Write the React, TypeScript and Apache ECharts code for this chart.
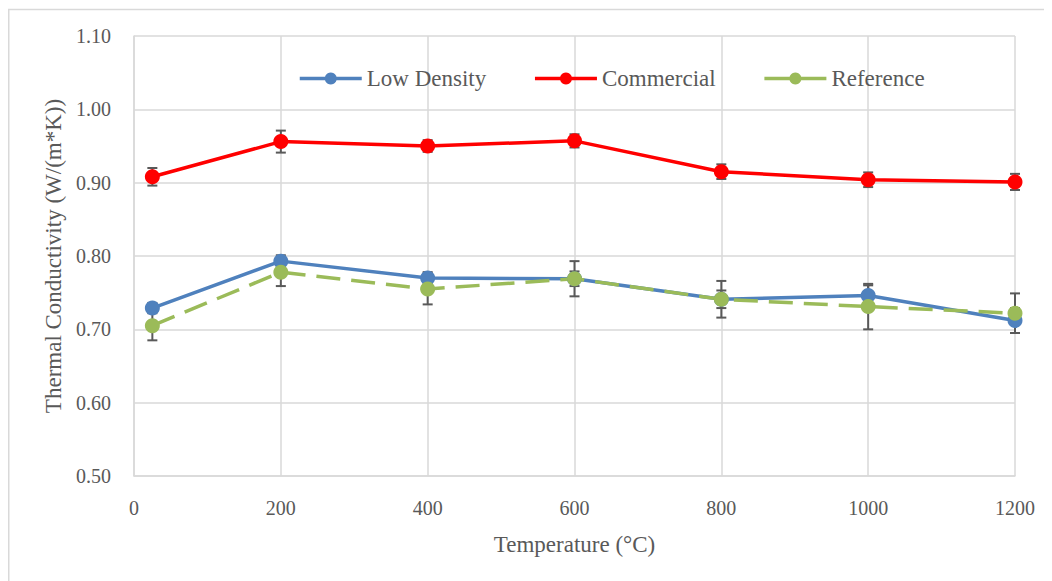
import React, { useEffect, useRef } from "react";
import * as echarts from "echarts";

const temperatures = [25, 200, 400, 600, 800, 1000, 1200];
const lowDensity = [0.729, 0.793, 0.770, 0.769, 0.741, 0.746, 0.712];
const lowDensityErr = [0.007, 0.008, 0.008, 0.010, 0.012, 0.014, 0.017];
const commercial = [0.908, 0.956, 0.950, 0.957, 0.915, 0.904, 0.901];
const commercialErr = [0.012, 0.015, 0.008, 0.009, 0.010, 0.010, 0.011];
const reference = [0.705, 0.778, 0.755, 0.769, 0.741, 0.731, 0.722];
const referenceErr = [0.020, 0.019, 0.021, 0.024, 0.025, 0.031, 0.027];

const FONT = "'Liberation Serif', 'Times New Roman', serif";
const TEXT = "#595959";
const GRID = "#d9d9d9";

const seriesDefs = [
  { name: "Low Density", data: lowDensity, err: lowDensityErr, color: "#4f81bd", dash: "solid" as any },
  { name: "Commercial", data: commercial, err: commercialErr, color: "#ff0000", dash: "solid" as any },
  { name: "Reference", data: reference, err: referenceErr, color: "#9bbb59", dash: [24, 11] as any },
];

export default function App() {
  const ref = useRef<HTMLDivElement>(null);
  useEffect(() => {
    if (!ref.current) return;
    const chart = echarts.init(ref.current, null, { renderer: "svg" });

    const errorSeries = seriesDefs.map((s) => ({
      type: "custom",
      name: s.name + " error",
      z: 1,
      silent: true,
      data: temperatures.map((t, i) => [t, s.data[i] - s.err[i], s.data[i] + s.err[i]]),
      renderItem: (params: any, api: any) => {
        const x = api.value(0);
        const lo = api.coord([x, api.value(1)]);
        const hi = api.coord([x, api.value(2)]);
        const cap = 5;
        const style = { stroke: "#595959", lineWidth: 2 };
        return {
          type: "group",
          children: [
            { type: "line", shape: { x1: lo[0], y1: lo[1], x2: hi[0], y2: hi[1] }, style },
            { type: "line", shape: { x1: lo[0] - cap, y1: lo[1], x2: lo[0] + cap, y2: lo[1] }, style },
            { type: "line", shape: { x1: hi[0] - cap, y1: hi[1], x2: hi[0] + cap, y2: hi[1] }, style },
          ],
        };
      },
    }));

    const lineSeries = seriesDefs.map((s) => ({
      type: "line",
      name: s.name,
      z: 3,
      data: temperatures.map((t, i) => [t, s.data[i]]),
      symbol: "circle",
      symbolSize: 15,
      showSymbol: true,
      itemStyle: { color: s.color },
      lineStyle: { color: s.color, width: 3.5, type: s.dash },
    }));

    chart.setOption({
      animation: false,
      backgroundColor: "#ffffff",
      textStyle: { fontFamily: FONT },
      graphic: [
        {
          type: "rect",
          shape: { x: 0.75, y: 1.5, width: 1200, height: 800 },
          style: { fill: "none", stroke: GRID, lineWidth: 1.5 },
          silent: true,
          z: -10,
        },
      ],
      grid: { left: 126, top: 28, right: 37, bottom: 105 },
      legend: {
        top: 59,
        left: 290,
        padding: 0,
        itemWidth: 62,
        itemHeight: 15,
        itemGap: 47,
        textStyle: { fontFamily: FONT, fontSize: 23, color: TEXT },
        data: seriesDefs.map((s) => ({
          name: s.name,
          lineStyle: { type: "solid", width: 3.5 },
        })),
      },
      xAxis: {
        type: "value",
        min: 0,
        max: 1200,
        interval: 200,
        name: "Temperature (°C)",
        nameLocation: "middle",
        nameGap: 57,
        nameTextStyle: { fontFamily: FONT, fontSize: 23, color: TEXT },
        axisLine: { show: true, lineStyle: { color: GRID, width: 1.5 } },
        axisTick: { show: false },
        axisLabel: {
          fontFamily: FONT,
          fontSize: 20,
          color: TEXT,
          margin: 22,
          formatter: (v: number) => String(v),
        },
        splitLine: { show: true, lineStyle: { color: GRID, width: 1.5 } },
      },
      yAxis: {
        type: "value",
        min: 0.5,
        max: 1.1,
        interval: 0.1,
        name: "Thermal Conductivity (W/(m*K))",
        nameLocation: "middle",
        nameGap: 66,
        nameTextStyle: { fontFamily: FONT, fontSize: 23, color: TEXT },
        axisLine: { show: true, lineStyle: { color: GRID, width: 1.5 } },
        axisTick: { show: false },
        axisLabel: {
          fontFamily: FONT,
          fontSize: 20,
          color: TEXT,
          margin: 23,
          formatter: (v: number) => v.toFixed(2),
        },
        splitLine: { show: true, lineStyle: { color: GRID, width: 1.5 } },
      },
      series: [...errorSeries, ...lineSeries],
    });
    return () => chart.dispose();
  }, []);
  return <div ref={ref} style={{ width: 1044, height: 573 }} />;
}
